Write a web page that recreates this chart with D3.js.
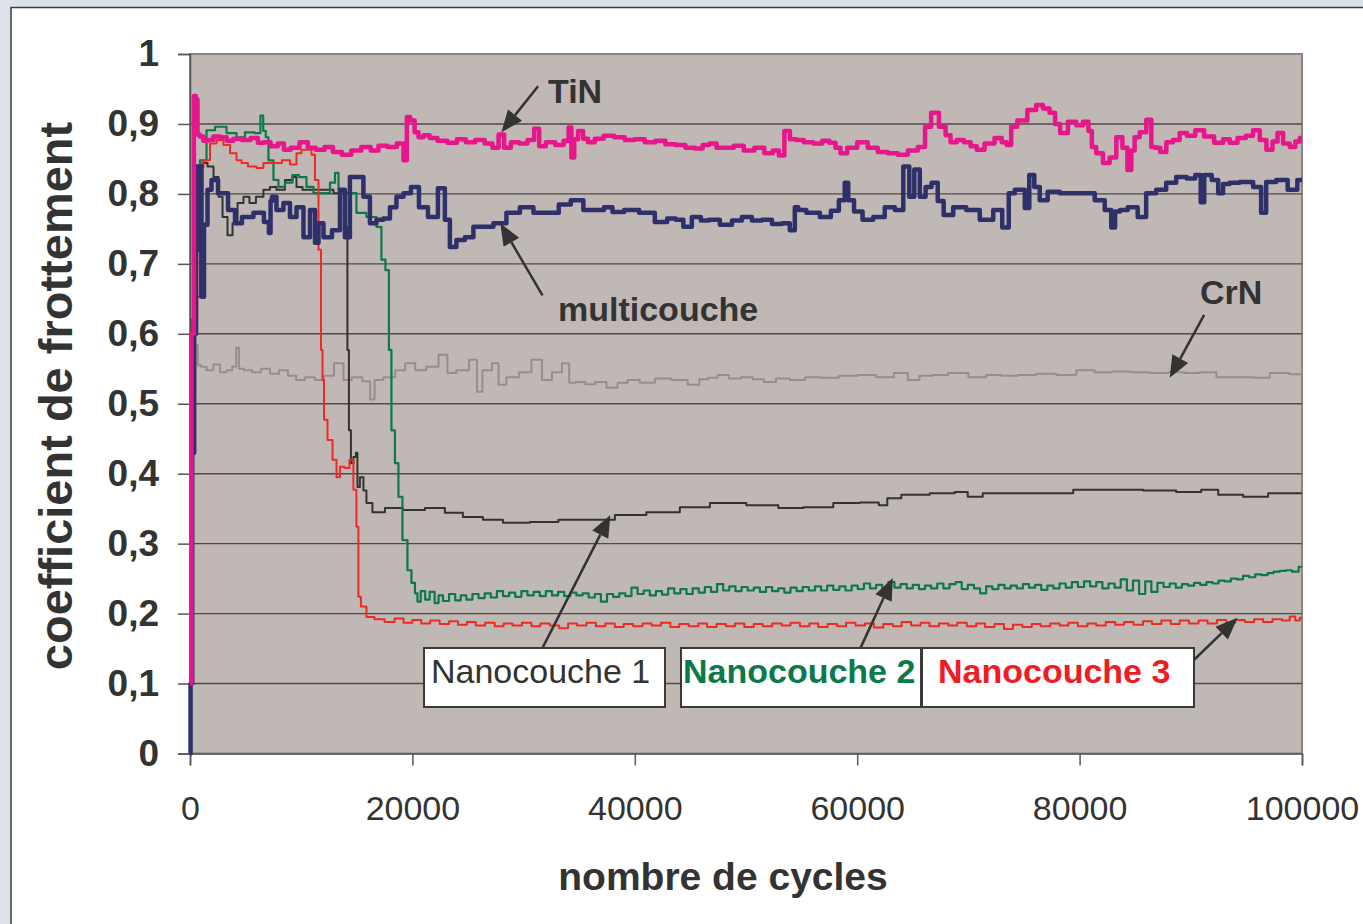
<!DOCTYPE html>
<html>
<head>
<meta charset="utf-8">
<script src="https://cdn.jsdelivr.net/npm/d3@7"></script>
<style>
  body { margin: 0; background: #dde1ea; }
  svg { display: block; font-family: "Liberation Sans", Arial, sans-serif; }
</style>
</head>
<body>
<script>
// cycles are in thousands, second value is the friction coefficient
var xTicks = [0, 20000, 40000, 60000, 80000, 100000];
var yTicks = [0, 0.1, 0.2, 0.3, 0.4, 0.5, 0.6, 0.7, 0.8, 0.9, 1];

var tinData = [[0,0.10],[0.25,0.6],[0.45,0.94],[0.6,0.935],[0.75,0.885],[1.0,0.882],[1.4,0.876],[1.8,0.877],[2.4,0.882],[3.0,0.881],[3.6,0.876],[4.2,0.879],[5.1,0.877],[5.8,0.88],[6.4,0.873],[6.9,0.874],[7.6,0.868],[8.2,0.872],[8.7,0.863],[9.4,0.866],[10.3,0.874],[10.9,0.866],[11.7,0.863],[12.5,0.867],[13.2,0.86],[14.1,0.856],[14.9,0.862],[15.9,0.867],[16.6,0.862],[17.3,0.869],[18.2,0.867],[19.0,0.872],[19.4,0.848],[19.6,0.91],[20.0,0.905],[20.4,0.888],[20.7,0.881],[21.3,0.884],[21.8,0.88],[22.7,0.876],[23.6,0.873],[24.4,0.878],[25.2,0.874],[26.1,0.877],[26.9,0.872],[27.5,0.866],[28.0,0.885],[28.5,0.866],[29.2,0.874],[30.0,0.872],[30.7,0.877],[31.2,0.893],[31.6,0.868],[32.4,0.874],[33.3,0.87],[33.9,0.876],[34.2,0.895],[34.4,0.852],[34.7,0.878],[35.1,0.89],[35.6,0.879],[36.0,0.874],[36.8,0.879],[37.6,0.883],[38.7,0.881],[39.5,0.877],[40.4,0.878],[41.4,0.874],[42.3,0.876],[43.2,0.871],[44.1,0.87],[45.0,0.866],[45.8,0.865],[46.4,0.87],[47.0,0.872],[47.7,0.866],[48.5,0.866],[49.3,0.869],[50.3,0.862],[51.2,0.866],[52.1,0.858],[52.7,0.862],[53.2,0.855],[53.7,0.89],[54.2,0.878],[54.8,0.877],[55.6,0.874],[56.5,0.872],[57.2,0.876],[57.8,0.873],[58.3,0.866],[58.7,0.858],[59.5,0.866],[60.5,0.874],[61.4,0.866],[62.3,0.86],[63.2,0.858],[64.1,0.856],[65.0,0.862],[65.9,0.867],[66.3,0.896],[67.0,0.916],[67.7,0.896],[68.2,0.884],[68.6,0.874],[69.3,0.877],[69.9,0.874],[70.5,0.868],[71.0,0.863],[71.9,0.872],[72.8,0.88],[73.2,0.874],[73.7,0.87],[74.0,0.896],[74.8,0.905],[75.8,0.92],[76.4,0.927],[77.0,0.922],[77.6,0.916],[78.0,0.9],[78.5,0.887],[79.4,0.903],[80.0,0.898],[80.6,0.903],[81.0,0.89],[81.2,0.867],[81.8,0.858],[82.4,0.844],[83.0,0.852],[83.6,0.881],[84.1,0.866],[84.5,0.834],[84.8,0.862],[85.1,0.881],[85.7,0.888],[86.3,0.906],[86.6,0.867],[87.0,0.866],[87.5,0.86],[88.1,0.874],[88.7,0.877],[89.3,0.887],[90.0,0.883],[90.8,0.891],[91.6,0.882],[92.6,0.873],[93.2,0.878],[93.8,0.873],[94.6,0.88],[95.3,0.883],[95.9,0.891],[96.5,0.877],[97.1,0.863],[97.6,0.875],[98.0,0.887],[98.6,0.872],[99.2,0.867],[99.6,0.875],[100,0.88]];

var multiData = [[0,0.0],[0.1,0.1],[0.3,0.43],[0.45,0.6],[0.63,0.839],[0.8,0.72],[0.9,0.839],[1.17,0.653],[1.35,0.756],[1.8,0.806],[2.07,0.82],[2.97,0.801],[3.87,0.777],[4.23,0.758],[5.12,0.767],[6.29,0.773],[7.0,0.76],[7.19,0.744],[7.3,0.79],[7.46,0.796],[8.09,0.777],[8.72,0.787],[9.26,0.767],[9.89,0.781],[10.52,0.738],[11.06,0.777],[11.42,0.73],[11.69,0.758],[12.32,0.738],[13.22,0.748],[13.75,0.806],[14.11,0.738],[14.65,0.824],[15.28,0.824],[15.91,0.796],[16.45,0.758],[17.08,0.763],[17.71,0.765],[18.25,0.781],[18.88,0.796],[19.51,0.801],[20.23,0.81],[20.95,0.781],[21.85,0.767],[22.74,0.808],[23.1,0.763],[23.64,0.724],[24.27,0.734],[25.17,0.738],[25.8,0.753],[26.7,0.753],[27.87,0.758],[29.04,0.773],[30.3,0.781],[31.47,0.773],[32.63,0.773],[33.7,0.785],[34.79,0.791],[35.96,0.777],[36.86,0.777],[37.6,0.781],[38.39,0.774],[39.7,0.777],[41.08,0.773],[42.52,0.76],[43.3,0.765],[44.05,0.763],[44.68,0.753],[45.58,0.767],[46.3,0.762],[47.02,0.763],[48.28,0.756],[49.2,0.762],[50.07,0.767],[51.0,0.762],[51.87,0.763],[52.8,0.757],[53.67,0.758],[54.21,0.748],[54.57,0.781],[54.84,0.777],[56.01,0.773],[57.27,0.767],[58.0,0.776],[58.7,0.791],[59.06,0.816],[59.33,0.791],[60.1,0.775],[60.86,0.763],[62.03,0.767],[62.93,0.781],[63.83,0.777],[64.46,0.839],[64.91,0.796],[65.36,0.835],[65.9,0.796],[66.4,0.81],[66.98,0.816],[67.5,0.79],[68.05,0.77],[69.22,0.781],[70.39,0.777],[71.65,0.763],[72.82,0.777],[73.27,0.752],[73.99,0.801],[74.35,0.806],[74.89,0.806],[75.25,0.78],[75.7,0.827],[76.15,0.81],[76.68,0.791],[77.58,0.803],[78.84,0.801],[80.01,0.801],[80.91,0.801],[81.81,0.791],[82.71,0.777],[82.98,0.752],[83.4,0.775],[83.88,0.777],[84.78,0.781],[85.67,0.767],[86.3,0.801],[87.47,0.806],[88.1,0.816],[89.27,0.824],[90.0,0.822],[90.8,0.827],[90.98,0.788],[91.43,0.827],[92.33,0.82],[92.6,0.801],[93.2,0.814],[93.77,0.816],[95.02,0.817],[96.19,0.81],[96.46,0.773],[97.09,0.817],[98.26,0.82],[99.16,0.806],[100,0.82]];

var crnData = [[0,0.42],[0.35,0.52],[0.6,0.584],[0.8,0.555],[1.2,0.553],[1.8,0.548],[2.4,0.556],[3.0,0.545],[3.6,0.548],[4.0,0.553],[4.3,0.58],[4.5,0.55],[5.2,0.548],[6.0,0.545],[6.8,0.55],[7.6,0.543],[8.4,0.548],[9.2,0.54],[9.9,0.534],[10.8,0.538],[11.7,0.534],[12.4,0.54],[13.5,0.558],[14.1,0.534],[15.0,0.538],[16.0,0.532],[16.4,0.506],[16.8,0.534],[18.0,0.538],[18.9,0.548],[19.8,0.558],[20.7,0.548],[21.8,0.553],[22.9,0.57],[23.4,0.544],[24.5,0.548],[25.7,0.563],[25.9,0.517],[26.7,0.548],[27.6,0.558],[27.9,0.527],[29.0,0.538],[30.2,0.545],[31.2,0.563],[32.1,0.534],[33.0,0.545],[33.9,0.558],[34.3,0.53],[35.1,0.531],[36.0,0.528],[36.9,0.531],[38.0,0.523],[38.9,0.53],[39.8,0.534],[41.1,0.53],[42.5,0.536],[44.1,0.534],[45.4,0.527],[46.2,0.535],[47.0,0.537],[47.9,0.541],[49.0,0.536],[50.1,0.538],[51.1,0.535],[52.1,0.531],[53.3,0.536],[54.6,0.534],[56.0,0.538],[57.5,0.537],[59.2,0.54],[60.9,0.541],[62.5,0.538],[64.1,0.544],[65.0,0.534],[66.2,0.54],[67.4,0.541],[69.0,0.544],[71.0,0.538],[72.2,0.541],[73.7,0.54],[75.2,0.541],[77.0,0.543],[78.8,0.541],[80.6,0.548],[82.1,0.545],[83.8,0.546],[85.4,0.545],[87.2,0.544],[88.7,0.545],[90.2,0.544],[91.4,0.545],[93.2,0.538],[95.0,0.538],[96.5,0.537],[97.7,0.544],[100,0.542]];

var nano1Data = [[0,0.28],[0.3,0.62],[0.6,0.8],[0.9,0.839],[1.35,0.844],[1.8,0.839],[2.43,0.824],[2.7,0.796],[3.15,0.767],[3.6,0.741],[4.05,0.758],[4.5,0.787],[5.12,0.796],[5.57,0.787],[6.29,0.796],[6.92,0.806],[7.46,0.81],[8.09,0.806],[8.99,0.82],[9.44,0.824],[9.71,0.81],[10.52,0.806],[11.06,0.806],[12.32,0.806],[13.49,0.801],[13.93,0.801],[14.11,0.753],[14.2,0.577],[14.38,0.462],[14.56,0.415],[14.83,0.424],[15.01,0.43],[15.1,0.381],[15.46,0.395],[15.73,0.376],[16.0,0.358],[16.81,0.345],[18.25,0.351],[20.05,0.348],[22.2,0.351],[23.64,0.344],[25.44,0.338],[27.24,0.334],[29.04,0.33],[32.1,0.331],[34.16,0.334],[36.86,0.334],[39.56,0.341],[42.52,0.345],[45.58,0.352],[47.92,0.358],[52.14,0.355],[53.67,0.351],[56.64,0.352],[59.06,0.358],[61.4,0.359],[62.48,0.355],[62.93,0.365],[65.0,0.37],[68.05,0.372],[69.49,0.374],[70.39,0.367],[72.19,0.372],[75.25,0.372],[78.21,0.372],[80.64,0.377],[84.24,0.377],[87.2,0.376],[90.17,0.374],[91.7,0.377],[93.23,0.37],[96.19,0.367],[97.72,0.372],[100,0.372]];

var nano2Data = [[0.2,0.5],[0.63,0.653],[1.17,0.848],[1.8,0.891],[2.7,0.896],[3.87,0.887],[4.5,0.881],[5.39,0.888],[6.2,0.887],[6.47,0.912],[6.7,0.89],[6.92,0.881],[7.19,0.848],[7.82,0.82],[8.09,0.81],[8.99,0.816],[9.44,0.827],[10.16,0.824],[10.79,0.81],[11.42,0.801],[12.32,0.801],[12.86,0.816],[13.22,0.83],[13.49,0.806],[14.11,0.801],[14.65,0.801],[15.28,0.773],[16.45,0.767],[17.08,0.753],[17.35,0.706],[17.8,0.691],[17.98,0.577],[18.25,0.462],[18.61,0.415],[18.88,0.367],[19.33,0.305],[19.78,0.262],[20.05,0.244],[20.41,0.229],[20.5,0.217],[21.0,0.232],[21.3,0.22],[21.8,0.231],[22.2,0.215],[22.5,0.226],[23.0,0.218],[23.6,0.228],[24.1,0.219],[24.6,0.226],[25.1,0.22],[25.7,0.228],[26.2,0.222],[26.8,0.229],[27.3,0.223],[27.9,0.232],[28.4,0.225],[29.0,0.23],[29.5,0.224],[30.1,0.232],[30.6,0.226],[31.2,0.231],[31.7,0.225],[32.3,0.232],[32.8,0.226],[33.4,0.231],[33.9,0.225],[34.5,0.23],[35.0,0.226],[35.6,0.229],[36.1,0.223],[36.7,0.228],[37.2,0.217],[37.8,0.228],[38.3,0.224],[38.9,0.229],[39.4,0.225],[40.0,0.237],[40.5,0.228],[41.1,0.233],[41.6,0.226],[42.2,0.232],[42.7,0.227],[43.3,0.236],[43.8,0.229],[44.4,0.235],[44.9,0.228],[45.5,0.236],[46.0,0.23],[46.6,0.238],[47.1,0.231],[47.7,0.242],[48.2,0.233],[48.8,0.239],[49.3,0.232],[49.9,0.238],[50.4,0.233],[51.0,0.237],[51.5,0.231],[52.1,0.238],[52.6,0.232],[53.2,0.236],[53.7,0.23],[54.3,0.237],[54.8,0.232],[55.4,0.238],[55.9,0.233],[56.5,0.239],[57.0,0.233],[57.6,0.24],[58.1,0.234],[58.7,0.239],[59.2,0.233],[59.8,0.24],[60.3,0.235],[60.9,0.243],[61.4,0.236],[62.0,0.241],[62.5,0.236],[63.1,0.245],[63.6,0.237],[64.2,0.242],[64.7,0.236],[65.3,0.241],[65.8,0.235],[66.4,0.24],[66.9,0.236],[67.5,0.243],[68.0,0.236],[68.6,0.242],[69.1,0.245],[69.7,0.235],[70.2,0.241],[70.8,0.236],[71.3,0.229],[71.9,0.239],[72.4,0.235],[73.0,0.241],[73.5,0.236],[74.1,0.24],[74.6,0.236],[75.2,0.242],[75.7,0.237],[76.3,0.241],[76.8,0.234],[77.4,0.24],[77.9,0.236],[78.5,0.243],[79.0,0.237],[79.6,0.245],[80.1,0.238],[80.7,0.246],[81.2,0.239],[81.8,0.245],[82.3,0.236],[82.9,0.243],[83.4,0.237],[84.0,0.249],[84.5,0.233],[85.1,0.247],[85.6,0.228],[86.2,0.246],[86.7,0.231],[87.3,0.244],[87.8,0.238],[88.4,0.243],[88.9,0.237],[89.5,0.242],[90.0,0.24],[90.6,0.244],[91.1,0.241],[91.7,0.245],[92.2,0.243],[92.8,0.247],[93.3,0.246],[93.9,0.25],[94.4,0.249],[95.0,0.254],[95.5,0.252],[96.1,0.256],[96.6,0.255],[97.2,0.258],[97.7,0.26],[98.3,0.261],[98.8,0.262],[99.4,0.26],[100,0.267]];

var nano3Data = [[0,0.39],[0.4,0.62],[0.9,0.838],[1.53,0.848],[2.07,0.872],[2.7,0.877],[3.33,0.87],[3.87,0.858],[4.5,0.848],[4.76,0.844],[5.66,0.839],[6.29,0.837],[6.92,0.844],[7.82,0.844],[8.72,0.848],[9.26,0.842],[9.89,0.858],[10.16,0.863],[10.52,0.863],[10.79,0.863],[11.06,0.856],[11.42,0.82],[11.69,0.72],[11.87,0.577],[11.96,0.534],[12.14,0.477],[12.59,0.448],[13.04,0.42],[13.31,0.395],[13.66,0.41],[14.11,0.408],[14.56,0.42],[14.83,0.377],[15.1,0.324],[15.19,0.224],[15.55,0.21],[16.18,0.195],[17.0,0.192],[18.0,0.188],[18.8,0.193],[19.6,0.187],[20.4,0.191],[21.2,0.186],[22.0,0.19],[22.9,0.185],[23.7,0.189],[24.5,0.184],[25.3,0.188],[26.1,0.183],[27.0,0.187],[27.8,0.182],[28.6,0.186],[29.4,0.183],[30.3,0.187],[31.1,0.182],[31.9,0.186],[32.8,0.183],[33.6,0.179],[34.4,0.186],[35.2,0.183],[36.1,0.187],[36.9,0.182],[37.8,0.186],[38.6,0.181],[39.4,0.185],[40.3,0.182],[41.1,0.186],[41.9,0.183],[42.8,0.187],[43.6,0.181],[44.4,0.185],[45.3,0.182],[46.1,0.186],[46.9,0.181],[47.8,0.185],[48.6,0.182],[49.4,0.186],[50.3,0.181],[51.1,0.185],[51.9,0.182],[52.8,0.186],[53.6,0.183],[54.4,0.187],[55.3,0.182],[56.1,0.186],[56.9,0.181],[57.8,0.185],[58.6,0.182],[59.4,0.187],[60.3,0.183],[61.1,0.186],[61.9,0.18],[62.8,0.185],[63.6,0.182],[64.4,0.188],[65.3,0.183],[66.1,0.187],[66.9,0.182],[67.8,0.186],[68.6,0.183],[69.4,0.187],[70.3,0.182],[71.1,0.186],[71.9,0.181],[72.8,0.185],[73.6,0.178],[74.4,0.184],[75.3,0.181],[76.1,0.185],[76.9,0.182],[77.8,0.186],[78.6,0.183],[79.4,0.187],[80.3,0.182],[81.1,0.186],[81.9,0.183],[82.8,0.188],[83.6,0.184],[84.4,0.188],[85.3,0.184],[86.1,0.189],[86.9,0.185],[87.8,0.19],[88.6,0.185],[89.4,0.19],[90.3,0.186],[91.1,0.19],[91.9,0.186],[92.8,0.191],[93.6,0.187],[94.4,0.191],[95.3,0.188],[96.1,0.192],[96.9,0.188],[97.8,0.192],[98.6,0.19],[99.2,0.196],[99.6,0.19],[100,0.194]];

// drawing order: first drawn ends up underneath
var series = [
  { data: crnData,   color: "#998d8b", width: 2 },
  { data: nano1Data, color: "#333333", width: 2 },
  { data: nano2Data, color: "#0b7a48", width: 2.2 },
  { data: nano3Data, color: "#ee2a24", width: 2 },
  { data: multiData, color: "#2f3069", width: 4.5 },
  { data: tinData,   color: "#e8168b", width: 4.5 }
];

var W = 1363, H = 924;
var plotL = 190, plotR = 1302, plotT = 54, plotB = 753.5;

var x = d3.scaleLinear().domain([0, 100000]).range([plotL, plotR]);
var y = d3.scaleLinear().domain([0, 1]).range([plotB, plotT]);

var svg = d3.select("body").append("svg")
  .attr("width", W)
  .attr("height", H);

// outer frame
svg.append("rect").attr("width", W).attr("height", H).attr("fill", "#dde1ea");
svg.append("rect")
  .attr("x", 11).attr("y", 7.5)
  .attr("width", W).attr("height", H)
  .attr("fill", "#ffffff")
  .attr("stroke", "#3c3c3c")
  .attr("stroke-width", 1.5);

// plot background
svg.append("rect")
  .attr("x", plotL).attr("y", plotT)
  .attr("width", plotR - plotL).attr("height", plotB - plotT)
  .attr("fill", "#c0b8b5")
  .attr("stroke", "#8d8482")
  .attr("stroke-width", 2);

// gridlines
svg.append("g").selectAll("line")
  .data(yTicks.filter(function(d){ return d > 0 && d < 1 }))
  .enter().append("line")
    .attr("x1", plotL).attr("x2", plotR)
    .attr("y1", function(d){ return y(d) })
    .attr("y2", function(d){ return y(d) })
    .attr("stroke", "#514a4a")
    .attr("stroke-width", 1.4);

// axes
var yAxis = d3.axisLeft(y)
  .tickValues(yTicks)
  .tickSize(12)
  .tickPadding(19)
  .tickFormat(function(d){ return d === 0 ? "0" : d === 1 ? "1" : d.toFixed(1).replace(".", ",") });

var gy = svg.append("g").attr("transform", "translate(" + plotL + ",0)").call(yAxis);
gy.select(".domain").attr("stroke", "#555").attr("stroke-width", 1.5);
gy.selectAll(".tick line").attr("stroke", "#555").attr("stroke-width", 1.5);
gy.selectAll(".tick text")
  .attr("fill", "#333")
  .style("font-size", "37px")
  .style("font-weight", "bold");

var xAxis = d3.axisBottom(x)
  .tickValues(xTicks)
  .tickSize(12)
  .tickPadding(30)
  .tickFormat(d3.format("d"));

var gx = svg.append("g").attr("transform", "translate(0," + plotB + ")").call(xAxis);
gx.select(".domain").attr("stroke", "#555").attr("stroke-width", 1.5);
gx.selectAll(".tick line").attr("stroke", "#555").attr("stroke-width", 1.5);
gx.selectAll(".tick text")
  .attr("fill", "#333")
  .style("font-size", "34px");

// series lines (stepped, like the sampled recorder output)
var line = d3.line()
  .curve(d3.curveStep)
  .x(function(d){ return x(d[0] * 1000) })
  .y(function(d){ return y(d[1]) });

svg.append("g").selectAll("path")
  .data(series)
  .enter().append("path")
    .attr("d", function(d){ return line(d.data) })
    .attr("fill", "none")
    .attr("stroke", function(d){ return d.color })
    .attr("stroke-width", function(d){ return d.width })
    .attr("stroke-linejoin", "round");

// axis titles
svg.append("text")
  .attr("x", 723).attr("y", 890)
  .attr("text-anchor", "middle")
  .attr("fill", "#333")
  .style("font-size", "39px")
  .style("font-weight", "bold")
  .text("nombre de cycles");

svg.append("text")
  .attr("transform", "translate(72,396) rotate(-90)")
  .attr("text-anchor", "middle")
  .attr("fill", "#333")
  .style("font-size", "47px")
  .style("font-weight", "bold")
  .text("coefficient de frottement");

// arrows: tip and tail in data units
var arrows = [
  { tip: [28000, 0.888], tail: [31300, 0.954] },
  { tip: [27900, 0.758], tail: [31700, 0.655] },
  { tip: [88100, 0.537], tail: [91200, 0.627] },
  { tip: [37800, 0.341], tail: [31700, 0.151] },
  { tip: [63200, 0.251], tail: [60300, 0.151] },
  { tip: [94200, 0.194], tail: [90300, 0.134] }
];

var ag = svg.append("g");
arrows.forEach(function(a){
  var tx = x(a.tip[0]), ty = y(a.tip[1]);
  var sx = x(a.tail[0]), sy = y(a.tail[1]);
  var ang = Math.atan2(ty - sy, tx - sx);
  var len = 22, hw = 9;
  var bx = tx - len * Math.cos(ang), by = ty - len * Math.sin(ang);
  ag.append("line")
    .attr("x1", sx).attr("y1", sy).attr("x2", bx).attr("y2", by)
    .attr("stroke", "#333").attr("stroke-width", 2.5);
  ag.append("path")
    .attr("d", "M" + tx + "," + ty +
      "L" + (bx + hw * Math.sin(ang)) + "," + (by - hw * Math.cos(ang)) +
      "L" + (bx - hw * Math.sin(ang)) + "," + (by + hw * Math.cos(ang)) + "Z")
    .attr("fill", "#333");
});

// free labels
var labels = [
  { text: "TiN", x: 548, y: 103 },
  { text: "multicouche", x: 558, y: 321 },
  { text: "CrN", x: 1200, y: 304 }
];
svg.append("g").selectAll("text")
  .data(labels)
  .enter().append("text")
    .attr("x", function(d){ return d.x })
    .attr("y", function(d){ return d.y })
    .attr("fill", "#333")
    .style("font-size", "34px")
    .style("font-weight", "bold")
    .text(function(d){ return d.text });

// boxed labels
var boxes = [
  { text: "Nanocouche 1", x0: 424, x1: 665, color: "#333", bold: false, tx: 431 },
  { text: "Nanocouche 2", x0: 681, x1: 921, color: "#0b7a48", bold: true, tx: 683 },
  { text: "Nanocouche 3", x0: 922, x1: 1194, color: "#ee1c25", bold: true, tx: 938 }
];
var bg = svg.append("g");
boxes.forEach(function(b){
  bg.append("rect")
    .attr("x", b.x0).attr("y", 648)
    .attr("width", b.x1 - b.x0).attr("height", 59)
    .attr("fill", "#ffffff")
    .attr("stroke", "#3a3a3a")
    .attr("stroke-width", 2);
  bg.append("text")
    .attr("x", b.tx).attr("y", 683)
    .attr("fill", b.color)
    .style("font-size", "34px")
    .style("font-weight", b.bold ? "bold" : "normal")
    .text(b.text);
});
</script>
</body>
</html>
